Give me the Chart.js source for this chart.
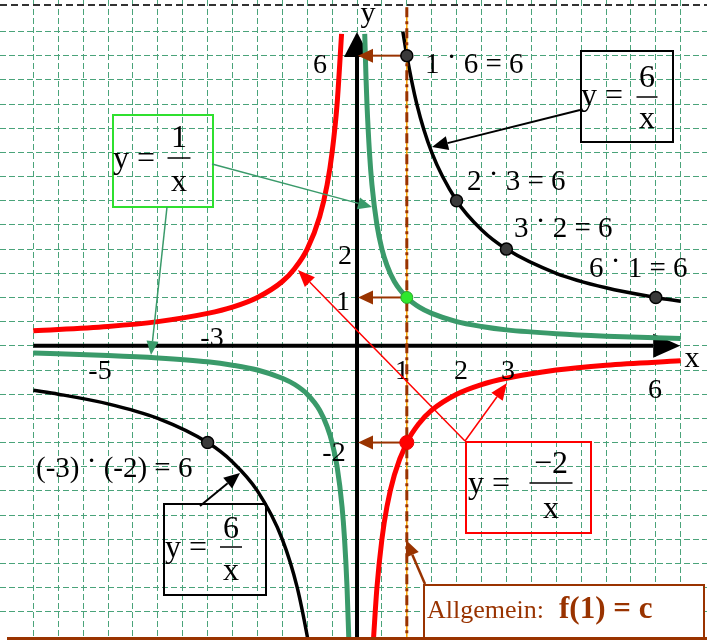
<!DOCTYPE html>
<html>
<head>
<meta charset="utf-8">
<script src="https://cdn.jsdelivr.net/npm/chart.js@4.4.0/dist/chart.umd.min.js"></script>
<style>
  html, body { margin: 0; padding: 0; background: #fff; }
  #wrap { width: 707px; height: 640px; position: relative; }
</style>
</head>
<body>
<div id="wrap"><canvas id="hyperbeln"></canvas></div>
<script>
// y = 6/x  (schwarz)
const sechsRechtsX = [0.92, 1, 1.2, 1.5, 2, 2.5, 3, 4, 5, 6, 6.5];
const sechsRechtsY = [6.5, 6, 5, 4, 3, 2.4, 2, 1.5, 1.2, 1, 0.92];
const sechsLinksX = [-6.5, -6, -5, -4, -3, -2.5, -2, -1.5, -1.2, -1, -0.985];
const sechsLinksY = [-0.92, -1, -1.2, -1.5, -2, -2.4, -3, -4, -5, -6, -6.09];

// y = 1/x  (gruen)
const einsRechtsX = [0.155, 0.18, 0.2, 0.25, 0.3, 0.4, 0.5, 0.6, 0.75, 1, 1.25, 1.5, 2, 2.5, 3, 4, 5, 6.5];
const einsRechtsY = [6.45, 5.56, 5, 4, 3.33, 2.5, 2, 1.67, 1.33, 1, 0.8, 0.67, 0.5, 0.4, 0.33, 0.25, 0.2, 0.15];
const einsLinksX = [-6.5, -5, -4, -3, -2.5, -2, -1.5, -1.25, -1, -0.75, -0.6, -0.5, -0.4, -0.3, -0.25, -0.2, -0.164];
const einsLinksY = [-0.15, -0.2, -0.25, -0.33, -0.4, -0.5, -0.67, -0.8, -1, -1.33, -1.67, -2, -2.5, -3.33, -4, -5, -6.09];

// y = -2/x  (rot)
const zweiLinksX = [-6.5, -5, -4, -3, -2.5, -2, -1.5, -1.25, -1, -0.75, -0.6, -0.5, -0.4, -0.31];
const zweiLinksY = [0.31, 0.4, 0.5, 0.67, 0.8, 1, 1.33, 1.6, 2, 2.67, 3.33, 4, 5, 6.45];
const zweiRechtsX = [0.329, 0.4, 0.5, 0.6, 0.75, 1, 1.25, 1.5, 2, 2.5, 3, 4, 5, 6.5];
const zweiRechtsY = [-6.09, -5, -4, -3.33, -2.67, -2, -1.6, -1.33, -1, -0.8, -0.67, -0.5, -0.4, -0.31];

// markierte Punkte
const punkteSechsX = [1, 2, 3, 6, -3];
const punkteSechsY = [6, 3, 2, 1, -2];
const punktEinsX = [1];
const punktEinsY = [1];
const punktZweiX = [1];
const punktZweiY = [-2];

// senkrechte x = 1
const senkrechteX = [1, 1];
const senkrechteY = [7, -6.09];

// Beschriftung der Achsen
const achsenWerteY = ['6', '2', '1', '-2'];
const achsenWerteX = ['-5', '-3', '1', '2', '3', '6'];

const paare = (xs, ys) => xs.map((x, i) => ({ x: x, y: ys[i] }));

const SERIF = '"Liberation Serif", "Times New Roman", serif';
const GRUEN = '#3a9a6a';
const BRAUN = '#993300';

function pfeil(ctx, x1, y1, x2, y2, farbe, breite, len, halb) {
  const a = Math.atan2(y2 - y1, x2 - x1);
  const bx = x2 - len * Math.cos(a), by = y2 - len * Math.sin(a);
  ctx.save();
  ctx.strokeStyle = farbe;
  ctx.fillStyle = farbe;
  ctx.lineWidth = breite;
  ctx.beginPath();
  ctx.moveTo(x1, y1);
  ctx.lineTo(bx, by);
  ctx.stroke();
  ctx.beginPath();
  ctx.moveTo(x2, y2);
  ctx.lineTo(bx + halb * Math.sin(a), by - halb * Math.cos(a));
  ctx.lineTo(bx - halb * Math.sin(a), by + halb * Math.cos(a));
  ctx.closePath();
  ctx.fill();
  ctx.restore();
}

function produkt(ctx, x, y, links, rechts) {
  ctx.font = '29px ' + SERIF;
  ctx.textAlign = 'left';
  ctx.fillStyle = '#000';
  ctx.fillText(links + ' ', x, y);
  let w = ctx.measureText(links + ' ').width;
  ctx.fillText('\u00b7', x + w, y - 7);
  w += ctx.measureText('\u00b7').width;
  ctx.fillText(' ' + rechts, x + w, y);
}

function bruchKasten(ctx, k) {
  ctx.save();
  ctx.strokeStyle = k.farbe;
  ctx.lineWidth = 2;
  ctx.strokeRect(k.x, k.y, k.w, k.h);
  ctx.fillStyle = '#000';
  ctx.font = '32px ' + SERIF;
  ctx.textAlign = 'left';
  ctx.fillText('y =', k.yx, k.yb);
  ctx.textAlign = 'center';
  ctx.fillText(k.zaehler, k.bx, k.zb);
  ctx.fillText('x', k.bx, k.nb);
  ctx.lineWidth = 1.5;
  ctx.strokeStyle = '#000';
  ctx.beginPath();
  ctx.moveTo(k.bx - k.bw / 2, k.by);
  ctx.lineTo(k.bx + k.bw / 2, k.by);
  ctx.stroke();
  ctx.restore();
}

const zeichnung = {
  id: 'zeichnung',
  beforeDatasetsDraw(chart) {
    const ctx = chart.ctx;
    const sx = chart.scales.x, sy = chart.scales.y;
    ctx.save();
    // gestrichelte Linie oben
    ctx.strokeStyle = '#333';
    ctx.lineWidth = 2;
    ctx.setLineDash([7, 4]);
    ctx.beginPath();
    ctx.moveTo(0, 5);
    ctx.lineTo(707, 5);
    ctx.stroke();
    ctx.setLineDash([]);
    ctx.restore();
    // Achsen
    const x0 = sx.getPixelForValue(0), y0 = sy.getPixelForValue(0);
    pfeil(ctx, sx.getPixelForValue(-6.5), y0, sx.getPixelForValue(6.49), y0, '#000', 4, 27, 12);
    pfeil(ctx, x0, sy.getPixelForValue(-6.09), x0, sy.getPixelForValue(6.49), '#000', 4, 25, 13);
  },
  afterDatasetDraw(chart, args) {
    if (chart.data.datasets[args.index].kennung !== 'senkrecht') return;
    const ctx = chart.ctx;
    const sx = chart.scales.x, sy = chart.scales.y;
    [6, 1, -2].forEach(v => {
      pfeil(ctx, sx.getPixelForValue(1) - 4, sy.getPixelForValue(v),
        sx.getPixelForValue(0) + 1, sy.getPixelForValue(v), BRAUN, 2, 15, 7);
    });
  },
  afterDatasetsDraw(chart) {
    const ctx = chart.ctx;
    ctx.save();
    ctx.fillStyle = '#000';
    ctx.textAlign = 'center';
    ctx.font = '30px ' + SERIF;
    ctx.fillText('y', 368, 22);
    ctx.fillText('x', 692, 367);

    ctx.font = '28px ' + SERIF;
    const posY = [[320, 73], [345, 264], [343, 310], [334, 461]];
    achsenWerteY.forEach((t, i) => ctx.fillText(t, posY[i][0], posY[i][1]));
    const posX = [[100, 379], [212, 346], [402, 379], [461, 379], [508, 379], [655, 398]];
    achsenWerteX.forEach((t, i) => ctx.fillText(t, posX[i][0], posX[i][1]));

    produkt(ctx, 425, 73, '1', '6 = 6');
    produkt(ctx, 467, 190, '2', '3 = 6');
    produkt(ctx, 514, 237, '3', '2 = 6');
    produkt(ctx, 589, 277, '6', '1 = 6');
    produkt(ctx, 36, 477, '(-3)', '(-2) = 6');

    // Kaesten
    bruchKasten(ctx, { x: 113, y: 115, w: 100, h: 92, farbe: '#2fe02f', yx: 113, yb: 168,
      zaehler: '1', bx: 179, zb: 147, nb: 191, by: 158, bw: 23 });
    bruchKasten(ctx, { x: 581, y: 51, w: 92, h: 91, farbe: '#000', yx: 581, yb: 105,
      zaehler: '6', bx: 647, zb: 87, nb: 128, by: 97, bw: 21 });
    bruchKasten(ctx, { x: 164, y: 504, w: 102, h: 91, farbe: '#000', yx: 165, yb: 557,
      zaehler: '6', bx: 231, zb: 538, nb: 580, by: 547, bw: 22 });
    bruchKasten(ctx, { x: 466, y: 442, w: 125, h: 91, farbe: '#ff0000', yx: 468, yb: 493,
      zaehler: '\u22122', bx: 551, zb: 473, nb: 518, by: 483, bw: 43 });

    // Pfeile zu den Kurven
    pfeil(ctx, 212, 164, 372, 207, GRUEN, 1.5, 14, 6);
    pfeil(ctx, 167, 207, 151, 355, GRUEN, 1.5, 14, 6);
    pfeil(ctx, 580, 110, 432, 147, '#000', 2, 16, 7);
    pfeil(ctx, 200, 506, 240, 473, '#000', 2, 16, 7);
    pfeil(ctx, 465, 441, 298, 270, '#ff0000', 1.5, 17, 7);
    pfeil(ctx, 465, 441, 507, 383, '#ff0000', 1.5, 17, 7);

    // Allgemein-Kasten
    ctx.fillStyle = '#fff';
    ctx.fillRect(424, 585, 280, 53);
    ctx.strokeStyle = BRAUN;
    ctx.lineWidth = 2;
    ctx.strokeRect(424, 585, 280, 53);
    ctx.lineWidth = 3;
    ctx.beginPath();
    ctx.moveTo(7, 638.5);
    ctx.lineTo(707, 638.5);
    ctx.stroke();
    pfeil(ctx, 425, 584, 406, 540, BRAUN, 2.5, 16, 7);
    ctx.fillStyle = BRAUN;
    ctx.textAlign = 'left';
    ctx.font = '26px ' + SERIF;
    ctx.fillText('Allgemein:', 427, 618);
    ctx.font = 'bold 31px ' + SERIF;
    ctx.fillText('f(1) = c', 559, 618);
    ctx.restore();
  }
};

const kurve = (label, xs, ys, farbe, breite) => ({
  label: label,
  data: paare(xs, ys),
  showLine: true,
  borderColor: farbe,
  borderWidth: breite,
  pointRadius: 0,
  cubicInterpolationMode: 'monotone',
  order: 3
});

const nurHalbe = scale => {
  scale.ticks = scale.ticks.filter(t => Math.abs(t.value * 2 - Math.round(t.value * 2)) < 1e-6);
};

new Chart(document.getElementById('hyperbeln'), {
  type: 'scatter',
  data: {
    datasets: [
      {
        label: '6/x Punkte', data: paare(punkteSechsX, punkteSechsY),
        pointRadius: 6, pointBackgroundColor: '#3a3a3a', pointBorderColor: '#000',
        pointBorderWidth: 1.5, order: 1
      },
      {
        label: '1/x Punkt', data: paare(punktEinsX, punktEinsY),
        pointRadius: 6, pointBackgroundColor: '#2ee82e', pointBorderColor: '#2aa02a',
        pointBorderWidth: 1, order: 1
      },
      {
        label: '-2/x Punkt', data: paare(punktZweiX, punktZweiY),
        pointRadius: 7, pointBackgroundColor: '#ff0000', pointBorderColor: '#ee0000',
        pointBorderWidth: 1, order: 1
      },
      {
        label: 'x = 1', kennung: 'senkrecht', data: paare(senkrechteX, senkrechteY),
        showLine: true, borderColor: BRAUN, borderWidth: 3, borderDash: [10, 4, 3, 4],
        pointRadius: 0, order: 2
      },
      {
        label: 'x = 1 orange', data: paare(senkrechteX, senkrechteY),
        showLine: true, borderColor: '#ffa500', borderWidth: 1.5,
        pointRadius: 0, order: 2
      },
      kurve('6/x rechts', sechsRechtsX, sechsRechtsY, '#000', 3.5),
      kurve('6/x links', sechsLinksX, sechsLinksY, '#000', 3.5),
      kurve('1/x rechts', einsRechtsX, einsRechtsY, GRUEN, 5),
      kurve('1/x links', einsLinksX, einsLinksY, GRUEN, 5),
      kurve('-2/x links', zweiLinksX, zweiLinksY, '#ff0000', 5),
      kurve('-2/x rechts', zweiRechtsX, zweiRechtsY, '#ff0000', 5)
    ]
  },
  options: {
    responsive: true,
    maintainAspectRatio: false,
    animation: false,
    layout: { padding: 0, autoPadding: false },
    plugins: {
      legend: { display: false },
      tooltip: { enabled: false },
      title: { display: false }
    },
    scales: {
      x: {
        type: 'linear',
        min: -7.169,
        max: 7.028,
        afterFit: s => { s.height = 0; },
        afterBuildTicks: nurHalbe,
        ticks: { display: false, stepSize: 0.5, maxTicksLimit: 100 },
        grid: { color: '#4aa37a', lineWidth: 1, drawTicks: false, tickLength: 0 },
        border: { display: false, dash: [6, 3] }
      },
      y: {
        type: 'linear',
        min: -6.083,
        max: 7.151,
        afterFit: s => { s.width = 0; },
        afterBuildTicks: nurHalbe,
        ticks: { display: false, stepSize: 0.5, maxTicksLimit: 100 },
        grid: { color: '#4aa37a', lineWidth: 1, drawTicks: false, tickLength: 0 },
        border: { display: false, dash: [6, 3] }
      }
    }
  },
  plugins: [zeichnung]
});
</script>
</body>
</html>
